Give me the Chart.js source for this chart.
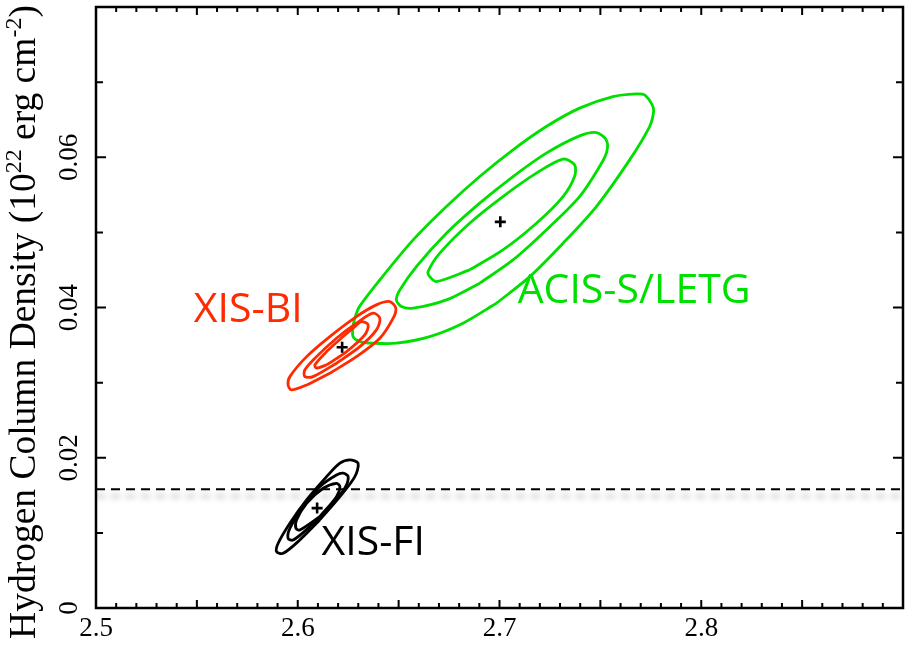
<!DOCTYPE html>
<html lang="en">
<head>
  <meta charset="UTF-8" />
  <title>Hydrogen column density confidence contours</title>
  <script src="https://cdn.jsdelivr.net/npm/chart.js@4"></script>
  <style>
    html, body { margin: 0; padding: 0; background: #fff; }
  </style>
</head>
<body>
  <canvas id="contours" width="905" height="645"></canvas>

  <script>
    // axis ticks (photon index on x, N_H on y)
    const xTickLabels = ['2.5', '2.6', '2.7', '2.8'];
    const yTickLabels = ['0', '0.02', '0.04', '0.06'];

    // galactic N_H (dashed line)
    const galacticNH = 0.0158;

    // best fit points: ACIS-S/LETG, XIS-BI, XIS-FI
    const bestGamma = [2.7004, 2.622, 2.6096];
    const bestNH = [0.0514, 0.0347, 0.0133];

    // confidence contours, [gamma, N_H]
    const acisOuter = [[2.6985,0.04057],[2.6819,0.03791],[2.6654,0.03613],[2.6489,0.03525],[2.6373,0.03525],[2.6308,0.03546],[2.6274,0.03613],[2.6275,0.03768],[2.6291,0.03924],[2.6308,0.04021],[2.6407,0.04368],[2.6572,0.04900],[2.6737,0.05344],[2.6902,0.05743],[2.7067,0.06099],[2.7232,0.06409],[2.7397,0.06654],[2.7562,0.06808],[2.7678,0.06844],[2.7719,0.06831],[2.7757,0.06698],[2.7764,0.06609],[2.7744,0.06409],[2.7645,0.05965],[2.7480,0.05344],[2.7315,0.04856],[2.7150,0.04411]];
    const acisMiddle = [[2.6902,0.04324],[2.6737,0.04101],[2.6572,0.03991],[2.6514,0.04012],[2.6489,0.04101],[2.6506,0.04234],[2.6588,0.04545],[2.6737,0.04989],[2.6902,0.05389],[2.7067,0.05743],[2.7232,0.06055],[2.7397,0.06285],[2.7480,0.06329],[2.7529,0.06232],[2.7532,0.06076],[2.7496,0.05876],[2.7397,0.05477],[2.7232,0.05033],[2.7067,0.04634]];
    const acisInner = [[2.6852,0.04501],[2.6687,0.04345],[2.6654,0.04411],[2.6646,0.04478],[2.6704,0.04723],[2.6852,0.05122],[2.7017,0.05477],[2.7183,0.05788],[2.7315,0.05975],[2.7372,0.05899],[2.7372,0.05743],[2.7315,0.05477],[2.7183,0.05122],[2.7017,0.04767]];

    const biOuter = [[2.6159,0.03125],[2.6044,0.02969],[2.5969,0.02903],[2.5952,0.02969],[2.5961,0.03080],[2.6044,0.03346],[2.6159,0.03613],[2.6291,0.03879],[2.6390,0.04035],[2.6456,0.04079],[2.6486,0.03991],[2.6473,0.03858],[2.6407,0.03591],[2.6291,0.03346]];
    const biMiddle = [[2.6192,0.03258],[2.6076,0.03080],[2.6035,0.03080],[2.6035,0.03169],[2.6093,0.03346],[2.6192,0.03591],[2.6291,0.03791],[2.6373,0.03924],[2.6407,0.03858],[2.6390,0.03702],[2.6308,0.03479]];
    const biInner = [[2.6143,0.03236],[2.6093,0.03192],[2.6085,0.03236],[2.6143,0.03413],[2.6225,0.03613],[2.6283,0.03746],[2.6316,0.03812],[2.6349,0.03768],[2.6332,0.03635],[2.6242,0.03413]];

    const fiOuter = [[2.6109,0.01172],[2.6010,0.00905],[2.5928,0.00728],[2.5895,0.00750],[2.5903,0.00862],[2.5961,0.01128],[2.6044,0.01438],[2.6143,0.01748],[2.6209,0.01927],[2.6258,0.01971],[2.6299,0.01927],[2.6283,0.01748],[2.6209,0.01482]];
    const fiMiddle = [[2.6159,0.01349],[2.6060,0.01083],[2.5977,0.00905],[2.5952,0.00928],[2.5961,0.01061],[2.6027,0.01349],[2.6109,0.01615],[2.6192,0.01771],[2.6225,0.01794],[2.6250,0.01748],[2.6233,0.01594]];
    const fiInner = [[2.6109,0.01216],[2.6010,0.01039],[2.5991,0.01061],[2.5994,0.01172],[2.6044,0.01394],[2.6126,0.01594],[2.6192,0.01660],[2.6209,0.01615],[2.6192,0.01482]];

    const GREEN = '#00e000';
    const RED = '#ff2a00';
    const SERIF = "'Liberation Serif', 'Times New Roman', serif";
    const SANS = "'Open Sans', 'Noto Sans', sans-serif";

    // instrument names, placed in data coords
    const instruments = [
      { text: 'ACIS-S/LETG', x: 2.709, y: 0.04065, color: GREEN },
      { text: 'XIS-BI', x: 2.5485, y: 0.0381, color: RED },
      { text: 'XIS-FI', x: 2.6118, y: 0.00706, color: '#000' }
    ];

    function closed(pts) {
      const out = pts.map(p => ({ x: p[0], y: p[1] }));
      out.push({ x: pts[0][0], y: pts[0][1] });
      return out;
    }

    function contour(pts, color) {
      return {
        data: closed(pts),
        showLine: true,
        borderColor: color,
        borderWidth: 2.8,
        pointRadius: 0,
        tension: 0.3,
        fill: false
      };
    }

    const datasets = [
      {
        data: bestGamma.map((g, i) => ({ x: g, y: bestNH[i] })),
        pointStyle: 'cross',
        pointRadius: 5.5,
        borderColor: '#000',
        borderWidth: 2.6,
        showLine: false
      },
      contour(fiInner, '#000'),
      contour(fiMiddle, '#000'),
      contour(fiOuter, '#000'),
      contour(biInner, RED),
      contour(biMiddle, RED),
      contour(biOuter, RED),
      contour(acisInner, GREEN),
      contour(acisMiddle, GREEN),
      contour(acisOuter, GREEN),
      {
        data: [{ x: 2.5, y: galacticNH }, { x: 2.9, y: galacticNH }],
        showLine: true,
        borderColor: '#000',
        borderWidth: 2,
        borderDash: [9, 6],
        pointRadius: 0,
        shadow: true
      }
    ];

    // soft grey shadow under the dashed line
    const lineShadow = {
      id: 'lineShadow',
      beforeDatasetDraw(chart, args) {
        if (!chart.data.datasets[args.index].shadow) return;
        const ctx = chart.ctx;
        ctx.save();
        ctx.shadowColor = 'rgba(0,0,0,0.4)';
        ctx.shadowBlur = 6;
        ctx.shadowOffsetY = 7;
      },
      afterDatasetDraw(chart, args) {
        if (chart.data.datasets[args.index].shadow) chart.ctx.restore();
      }
    };

    // box frame with inward ticks on all four sides
    const frame = {
      id: 'frame',
      afterDatasetsDraw(chart) {
        const { ctx, chartArea: a, scales: { x, y } } = chart;
        ctx.save();
        ctx.strokeStyle = '#000';
        ctx.lineWidth = 2;
        ctx.beginPath();
        for (let i = 0; i <= 40; i++) {
          const px = x.getPixelForValue(2.5 + i * 0.01);
          const len = i % 5 === 0 ? 8 : 5;
          ctx.moveTo(px, a.bottom); ctx.lineTo(px, a.bottom - len);
          ctx.moveTo(px, a.top); ctx.lineTo(px, a.top + len);
        }
        for (let i = 0; i <= 8; i++) {
          const py = y.getPixelForValue(i * 0.01);
          const len = i % 2 === 0 ? 10 : 7;
          ctx.moveTo(a.left, py); ctx.lineTo(a.left + len, py);
          ctx.moveTo(a.right, py); ctx.lineTo(a.right - len, py);
        }
        ctx.stroke();
        ctx.lineWidth = 2.5;
        ctx.strokeRect(a.left, a.top, a.right - a.left, a.bottom - a.top);

        // instrument names
        ctx.font = '41px ' + SANS;
        ctx.textBaseline = 'alphabetic';
        ctx.textAlign = 'left';
        instruments.forEach(t => {
          ctx.fillStyle = t.color;
          ctx.fillText(t.text, x.getPixelForValue(t.x), y.getPixelForValue(t.y));
        });
        ctx.restore();
      }
    };

    // y axis title with real superscripts
    const yTitle = {
      id: 'yTitle',
      afterDraw(chart) {
        const ctx = chart.ctx;
        const parts = [
          ['Hydrogen Column Density (10', 37.5, 0],
          ['22', 24, 14],
          [' erg cm', 37.5, 0],
          ['-2', 24, 14],
          [')', 37.5, 0]
        ];
        ctx.save();
        let total = 0;
        parts.forEach(p => { ctx.font = p[1] + 'px ' + SERIF; total += ctx.measureText(p[0]).width; });
        ctx.translate(35, 322);
        ctx.rotate(-Math.PI / 2);
        ctx.fillStyle = '#000';
        ctx.textBaseline = 'alphabetic';
        let pos = -total / 2;
        parts.forEach(p => {
          ctx.font = p[1] + 'px ' + SERIF;
          ctx.fillText(p[0], pos, -p[2]);
          pos += ctx.measureText(p[0]).width;
        });
        ctx.restore();
      }
    };

    new Chart(document.getElementById('contours'), {
      type: 'scatter',
      data: { datasets },
      options: {
        responsive: false,
        devicePixelRatio: 1,
        animation: false,
        layout: { padding: { top: 7, right: 2, left: 0, bottom: 0 }, autoPadding: false },
        plugins: { legend: { display: false }, tooltip: { enabled: false } },
        scales: {
          x: {
            type: 'linear',
            min: 2.5,
            max: 2.9,
            afterFit: s => { s.height = 37; s.paddingLeft = 0; s.paddingRight = 0; },
            grid: { display: false, drawTicks: false },
            border: { display: false },
            ticks: {
              stepSize: 0.1,
              padding: 5,
              maxRotation: 0,
              color: '#000',
              font: { family: SERIF, size: 27 },
              callback: v => {
                const s = Number(v).toFixed(1);
                return xTickLabels.includes(s) ? s : '';
              }
            }
          },
          y: {
            type: 'linear',
            min: 0,
            max: 0.08,
            afterFit: s => { s.width = 96; s.paddingTop = 0; s.paddingBottom = 0; },
            grid: { display: false, drawTicks: false },
            border: { display: false },
            ticks: {
              stepSize: 0.02,
              padding: 2,
              minRotation: 90,
              maxRotation: 90,
              crossAlign: 'center',
              color: '#000',
              font: { family: SERIF, size: 27 },
              callback: v => {
                const s = Number(v) === 0 ? '0' : Number(v).toFixed(2);
                return yTickLabels.includes(s) ? s : '';
              }
            }
          }
        }
      },
      plugins: [lineShadow, frame, yTitle]
    });
  </script>
</body>
</html>
